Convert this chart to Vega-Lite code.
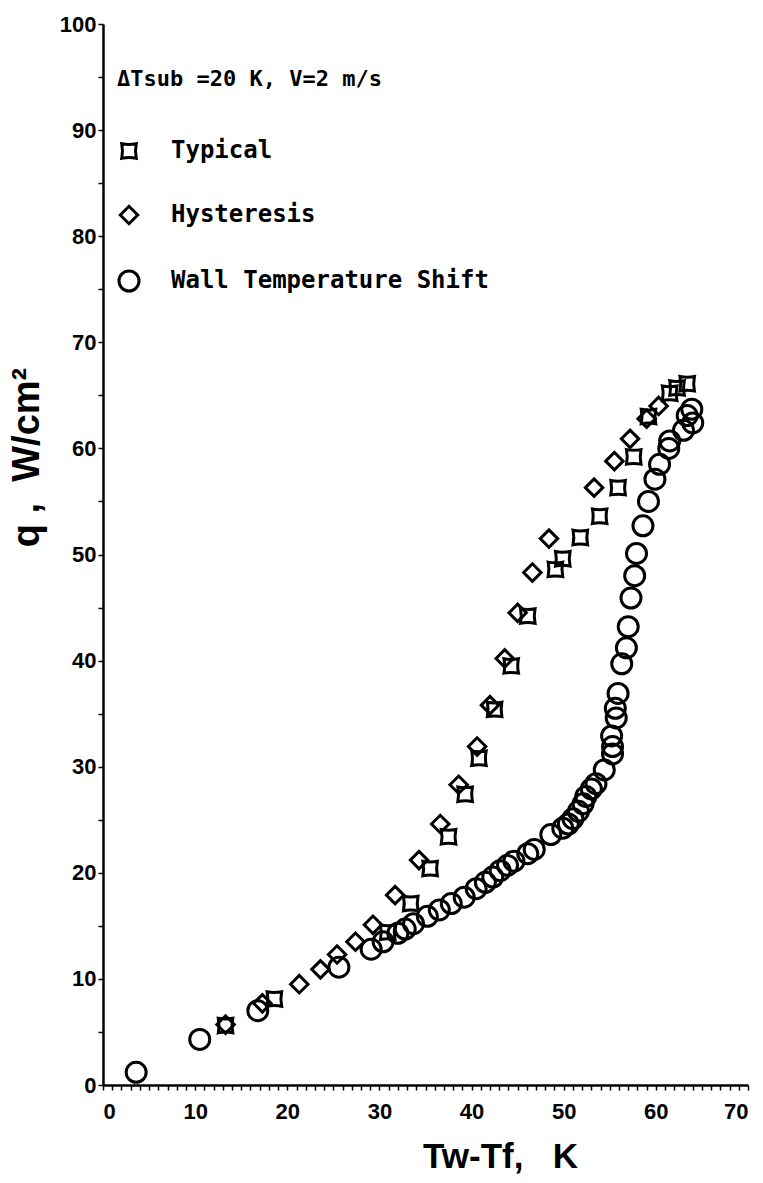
{
  "$schema": "https://vega.github.io/schema/vega-lite/v6.json",
  "width": 645,
  "height": 1061,
  "autosize": {"type": "none"},
  "padding": {"left": 103, "top": 24, "right": 15, "bottom": 98},
  "background": "white",
  "config": {
    "view": {"stroke": null},
    "axis": {
      "domainColor": "black", "domainWidth": 2.5, "tickColor": "black", "tickWidth": 1.5, "tickSize": 5,
      "labelFont": "Liberation Sans", "labelFontWeight": "bold", "labelFontSize": 22, "labelColor": "black",
      "titleFont": "Liberation Sans", "titleFontWeight": "bold", "titleColor": "black", "grid": false, "labelOverlap": false
    },
    "legend": {
      "titleFont": "DejaVu Sans Mono", "titleFontSize": 22, "titleFontWeight": "bold", "titleColor": "black",
      "labelFont": "DejaVu Sans Mono", "labelFontSize": 24, "labelFontWeight": "bold", "labelColor": "black",
      "titlePadding": 48, "rowPadding": 35, "labelOffset": 30, "symbolStrokeWidth": 3, "symbolStrokeColor": "black",
      "symbolFillColor": "transparent", "titleLimit": 500, "labelLimit": 500
    }
  },
  "data": {"values": [
    {"series": "Typical", "dT": 13.3, "q": 5.6},
    {"series": "Typical", "dT": 18.6, "q": 8.1},
    {"series": "Typical", "dT": 30.9, "q": 14.4},
    {"series": "Typical", "dT": 33.4, "q": 17.1},
    {"series": "Typical", "dT": 35.5, "q": 20.4},
    {"series": "Typical", "dT": 37.5, "q": 23.4},
    {"series": "Typical", "dT": 39.3, "q": 27.4},
    {"series": "Typical", "dT": 40.8, "q": 30.8},
    {"series": "Typical", "dT": 42.5, "q": 35.4},
    {"series": "Typical", "dT": 44.3, "q": 39.5},
    {"series": "Typical", "dT": 46.1, "q": 44.2},
    {"series": "Typical", "dT": 49.1, "q": 48.6},
    {"series": "Typical", "dT": 49.9, "q": 49.6},
    {"series": "Typical", "dT": 51.8, "q": 51.6},
    {"series": "Typical", "dT": 53.9, "q": 53.6},
    {"series": "Typical", "dT": 55.9, "q": 56.3},
    {"series": "Typical", "dT": 57.6, "q": 59.2},
    {"series": "Typical", "dT": 59.2, "q": 63.0},
    {"series": "Typical", "dT": 61.5, "q": 65.2},
    {"series": "Typical", "dT": 62.3, "q": 65.7},
    {"series": "Typical", "dT": 63.4, "q": 66.1},
    {"series": "Hysteresis", "dT": 13.3, "q": 5.7},
    {"series": "Hysteresis", "dT": 17.3, "q": 7.7},
    {"series": "Hysteresis", "dT": 21.3, "q": 9.5},
    {"series": "Hysteresis", "dT": 23.6, "q": 10.9},
    {"series": "Hysteresis", "dT": 25.4, "q": 12.3},
    {"series": "Hysteresis", "dT": 27.4, "q": 13.5},
    {"series": "Hysteresis", "dT": 29.3, "q": 15.1},
    {"series": "Hysteresis", "dT": 31.7, "q": 17.9},
    {"series": "Hysteresis", "dT": 34.3, "q": 21.2},
    {"series": "Hysteresis", "dT": 36.6, "q": 24.6},
    {"series": "Hysteresis", "dT": 38.6, "q": 28.3},
    {"series": "Hysteresis", "dT": 40.6, "q": 31.9},
    {"series": "Hysteresis", "dT": 42.0, "q": 35.8},
    {"series": "Hysteresis", "dT": 43.6, "q": 40.2},
    {"series": "Hysteresis", "dT": 45.0, "q": 44.5},
    {"series": "Hysteresis", "dT": 46.6, "q": 48.3},
    {"series": "Hysteresis", "dT": 48.4, "q": 51.5},
    {"series": "Hysteresis", "dT": 53.3, "q": 56.3},
    {"series": "Hysteresis", "dT": 55.5, "q": 58.8},
    {"series": "Hysteresis", "dT": 57.2, "q": 60.9},
    {"series": "Hysteresis", "dT": 59.0, "q": 62.8},
    {"series": "Hysteresis", "dT": 60.3, "q": 64.0},
    {"series": "Wall Temperature Shift", "dT": 3.6, "q": 1.2},
    {"series": "Wall Temperature Shift", "dT": 10.5, "q": 4.3},
    {"series": "Wall Temperature Shift", "dT": 16.8, "q": 7.0},
    {"series": "Wall Temperature Shift", "dT": 25.6, "q": 11.1},
    {"series": "Wall Temperature Shift", "dT": 29.1, "q": 12.8},
    {"series": "Wall Temperature Shift", "dT": 30.4, "q": 13.5},
    {"series": "Wall Temperature Shift", "dT": 32.0, "q": 14.3},
    {"series": "Wall Temperature Shift", "dT": 32.8, "q": 14.7},
    {"series": "Wall Temperature Shift", "dT": 33.7, "q": 15.2},
    {"series": "Wall Temperature Shift", "dT": 35.2, "q": 15.9},
    {"series": "Wall Temperature Shift", "dT": 36.5, "q": 16.5},
    {"series": "Wall Temperature Shift", "dT": 37.8, "q": 17.1},
    {"series": "Wall Temperature Shift", "dT": 39.2, "q": 17.7},
    {"series": "Wall Temperature Shift", "dT": 40.5, "q": 18.5},
    {"series": "Wall Temperature Shift", "dT": 41.5, "q": 19.1},
    {"series": "Wall Temperature Shift", "dT": 42.3, "q": 19.6},
    {"series": "Wall Temperature Shift", "dT": 43.1, "q": 20.2},
    {"series": "Wall Temperature Shift", "dT": 43.9, "q": 20.7},
    {"series": "Wall Temperature Shift", "dT": 44.6, "q": 21.1},
    {"series": "Wall Temperature Shift", "dT": 46.1, "q": 21.8},
    {"series": "Wall Temperature Shift", "dT": 46.8, "q": 22.2},
    {"series": "Wall Temperature Shift", "dT": 48.6, "q": 23.6},
    {"series": "Wall Temperature Shift", "dT": 49.9, "q": 24.2},
    {"series": "Wall Temperature Shift", "dT": 50.5, "q": 24.6},
    {"series": "Wall Temperature Shift", "dT": 51.0, "q": 25.1},
    {"series": "Wall Temperature Shift", "dT": 51.6, "q": 25.8},
    {"series": "Wall Temperature Shift", "dT": 52.1, "q": 26.5},
    {"series": "Wall Temperature Shift", "dT": 52.4, "q": 27.2},
    {"series": "Wall Temperature Shift", "dT": 53.0, "q": 27.9},
    {"series": "Wall Temperature Shift", "dT": 53.5, "q": 28.4},
    {"series": "Wall Temperature Shift", "dT": 54.4, "q": 29.7},
    {"series": "Wall Temperature Shift", "dT": 55.3, "q": 31.2},
    {"series": "Wall Temperature Shift", "dT": 55.3, "q": 31.9},
    {"series": "Wall Temperature Shift", "dT": 55.2, "q": 32.9},
    {"series": "Wall Temperature Shift", "dT": 55.7, "q": 34.6},
    {"series": "Wall Temperature Shift", "dT": 55.6, "q": 35.5},
    {"series": "Wall Temperature Shift", "dT": 55.9, "q": 36.9},
    {"series": "Wall Temperature Shift", "dT": 56.3, "q": 39.7},
    {"series": "Wall Temperature Shift", "dT": 56.8, "q": 41.2},
    {"series": "Wall Temperature Shift", "dT": 57.0, "q": 43.2},
    {"series": "Wall Temperature Shift", "dT": 57.3, "q": 45.9},
    {"series": "Wall Temperature Shift", "dT": 57.7, "q": 48.0},
    {"series": "Wall Temperature Shift", "dT": 57.9, "q": 50.1},
    {"series": "Wall Temperature Shift", "dT": 58.6, "q": 52.7},
    {"series": "Wall Temperature Shift", "dT": 59.2, "q": 55.0},
    {"series": "Wall Temperature Shift", "dT": 59.9, "q": 57.1},
    {"series": "Wall Temperature Shift", "dT": 60.4, "q": 58.5},
    {"series": "Wall Temperature Shift", "dT": 61.4, "q": 60.0},
    {"series": "Wall Temperature Shift", "dT": 61.5, "q": 60.7},
    {"series": "Wall Temperature Shift", "dT": 63.0, "q": 61.7},
    {"series": "Wall Temperature Shift", "dT": 64.0, "q": 62.4},
    {"series": "Wall Temperature Shift", "dT": 63.4, "q": 63.1},
    {"series": "Wall Temperature Shift", "dT": 63.9, "q": 63.7}
  ]},
  "mark": {"type": "point", "filled": false, "strokeWidth": 3, "color": "black", "opacity": 1},
  "encoding": {
    "x": {
      "field": "dT", "type": "quantitative",
      "scale": {"domain": [0, 70], "nice": false, "zero": false},
      "axis": {
        "values": [0,1,2,3,4,5,6,7,8,9,10,11,12,13,14,15,16,17,18,19,20,21,22,23,24,25,26,27,28,29,30,31,32,33,34,35,36,37,38,39,40,41,42,43,44,45,46,47,48,49,50,51,52,53,54,55,56,57,58,59,60,61,62,63,64,65,66,67,68,69,70],
        "labelExpr": "datum.value % 10 == 0 ? datum.label : ''",
        "labelPadding": 11,
        "title": "Tw-Tf,\u00a0\u00a0\u00a0K",
        "titleFontSize": 35,
        "titleX": 397,
        "titleY": 82,
        "titleAnchor": "middle",
        "titleAlign": "center",
        "titleBaseline": "alphabetic"
      }
    },
    "y": {
      "field": "q", "type": "quantitative",
      "scale": {"domain": [0, 100], "nice": false},
      "axis": {
        "values": [0,5,10,15,20,25,30,35,40,45,50,55,60,65,70,75,80,85,90,95,100],
        "labelExpr": "datum.value % 10 == 0 ? datum.label : ''",
        "labelPadding": 2,
        "title": "q\u00a0,\u00a0\u00a0W/cm²",
        "titleFontSize": 38,
        "titleX": -57,
        "titleY": 433,
        "titleAngle": -90,
        "titleAlign": "center",
        "titleBaseline": "bottom"
      }
    },
    "shape": {
      "field": "series", "type": "nominal",
      "scale": {"domain": ["Typical", "Hysteresis", "Wall Temperature Shift"], "range": ["M-1,-1Q0,-0.8,1,-1Q0.8,0,1,1Q0,0.8,-1,1Q-0.8,0,-1,-1Z", "diamond", "circle"]},
      "legend": {"title": "ΔTsub =20 K, V=2 m/s", "orient": "none", "legendX": 14, "legendY": 45}
    },
    "size": {
      "field": "series", "type": "nominal",
      "scale": {"domain": ["Typical", "Hysteresis", "Wall Temperature Shift"], "range": [210, 400, 240]},
      "legend": {"title": "ΔTsub =20 K, V=2 m/s", "orient": "none", "legendX": 14, "legendY": 45}
    }
  }
}
